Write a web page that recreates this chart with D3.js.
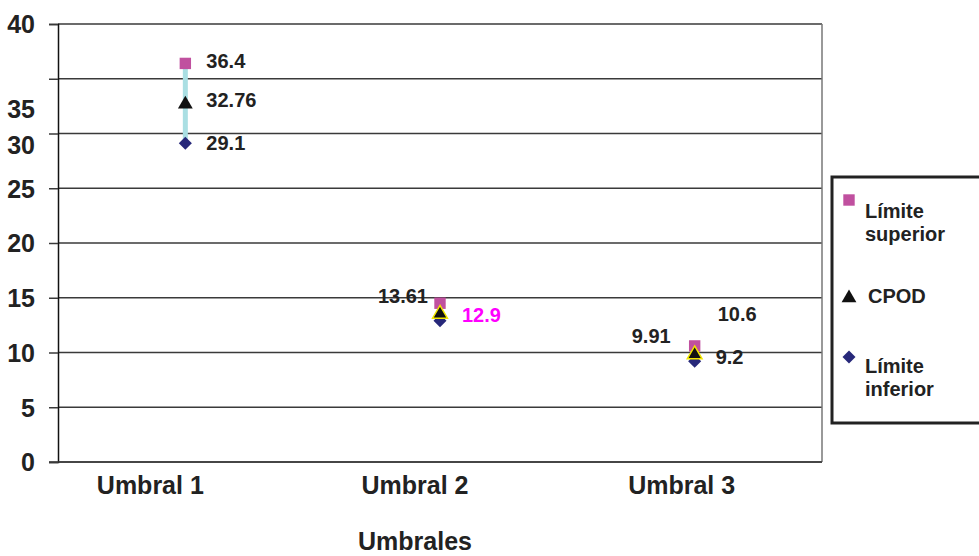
<!DOCTYPE html>
<html>
<head>
<meta charset="utf-8">
<script src="https://cdn.jsdelivr.net/npm/d3@7"></script>
<style>
  html, body { margin: 0; padding: 0; background: #fff; }
  svg { display: block; font-family: "Liberation Sans", Arial, Helvetica, sans-serif; font-weight: bold; }
</style>
</head>
<body>
<svg id="chart" width="979" height="556"></svg>
<script>
const categories = ["Umbral 1", "Umbral 2", "Umbral 3"];
const upperValues = [36.4, 14.5, 10.6];
const cpodValues = [32.76, 13.61, 9.91];
const lowerValues = [29.1, 12.9, 9.2];
const upperLabels = ["36.4", "", "10.6"];
const cpodLabels = ["32.76", "13.61", "9.91"];
const lowerLabels = ["29.1", "12.9", "9.2"];
const yTicks = [0, 5, 10, 15, 20, 25, 30, 35, 40];
const legendNames = ["Límite superior", "CPOD", "Límite inferior"];
const xTitle = "Umbrales";

const svg = d3.select("#chart");
const mLeft = 58, mRight = 822, mTop = 24, mBottom = 462;

const x = d3.scaleBand().domain(categories).range([mLeft, mRight]);
const cx = d => x(d) + x.bandwidth() / 2;
const y = d3.scaleLinear().domain([0, 40]).range([mBottom, mTop]);

// gridlines
svg.append("g").selectAll("line").data(yTicks).join("line")
  .attr("x1", mLeft).attr("x2", mRight)
  .attr("y1", d => y(d)).attr("y2", d => y(d))
  .attr("stroke", "#3a3a3a").attr("stroke-width", 1.5);

// right border
svg.append("line").attr("x1", mRight).attr("x2", mRight).attr("y1", mTop).attr("y2", mBottom)
  .attr("stroke", "#777").attr("stroke-width", 1.5);

// y axis
const yAxis = svg.append("g").attr("transform", `translate(${mLeft},0)`)
  .call(d3.axisLeft(y).tickValues(yTicks).tickSize(9).tickPadding(14).tickFormat(d3.format("d")));
yAxis.select(".domain").attr("stroke", "#111").attr("stroke-width", 1.5);
yAxis.selectAll(".tick line").attr("stroke", "#3a3a3a").attr("stroke-width", 1.5);
// the source draws the 35 and 30 labels displaced downward
const labelShift = {35: 30, 30: 11};
yAxis.selectAll(".tick text")
  .attr("fill", "#222")
  .style("font-size", "25px").style("font-weight", "bold")
  .attr("font-family", "Liberation Sans, Arial, sans-serif")
  .attr("dy", "0.35em")
  .attr("transform", d => labelShift[d] ? `translate(0,${labelShift[d]})` : null);

// bottom axis line
svg.append("line").attr("x1", mLeft - 9).attr("x2", mRight).attr("y1", mBottom).attr("y2", mBottom)
  .attr("stroke", "#3a3a3a").attr("stroke-width", 1.5);

// x labels (drawn left of the category centres, as in the source)
svg.append("g").selectAll("text").data(categories).join("text")
  .attr("x", (d, i) => cx(d) - [35, 25, 13][i]).attr("y", 494)
  .attr("text-anchor", "middle").attr("fill", "#222").style("font-size", "25px")
  .text(d => d);

svg.append("text").attr("x", 415).attr("y", 550).attr("text-anchor", "middle")
  .attr("fill", "#222").style("font-size", "25px").text(xTitle);

// high-low range lines
svg.append("g").selectAll("line").data(categories).join("line")
  .attr("x1", d => cx(d)).attr("x2", d => cx(d))
  .attr("y1", (d, i) => y(upperValues[i])).attr("y2", (d, i) => y(lowerValues[i]))
  .attr("stroke", "#aadfe3").attr("stroke-width", 5);

// markers
const sq = d3.symbol().type(d3.symbolSquare).size(130);
const tri = d3.symbol().type(d3.symbolTriangle).size(95);
const dia = d3.symbol().type(d3.symbolSquare).size(85);

svg.append("g").selectAll("path").data(categories).join("path")
  .attr("d", dia).attr("transform", (d, i) => `translate(${cx(d)},${y(lowerValues[i])}) rotate(45)`)
  .attr("fill", "#27287a");
svg.append("g").selectAll("path").data(categories).join("path")
  .attr("d", sq).attr("transform", (d, i) => `translate(${cx(d)},${y(upperValues[i])})`)
  .attr("fill", "#c0509f");
svg.append("g").selectAll("path").data(categories).join("path")
  .attr("d", tri).attr("transform", (d, i) => `translate(${cx(d)},${y(cpodValues[i]) + 1})`)
  .attr("fill", "#111")
  .attr("stroke", (d, i) => i === 0 ? "none" : "#f2e600").attr("stroke-width", 1.5);

// data labels
const labelStyle = {
  upper: [{dx: 21, dy: -2, anchor: "start"}, null, {dx: 23, dy: -32, anchor: "start"}],
  cpod:  [{dx: 21, dy: -3, anchor: "start"}, {dx: -12, dy: -17, anchor: "end"}, {dx: -24, dy: -17, anchor: "end"}],
  lower: [{dx: 21, dy: 0, anchor: "start"}, {dx: 22, dy: -6, anchor: "start", color: "#ff00ff"}, {dx: 21, dy: -4, anchor: "start"}]
};
const labelSets = [
  {key: "upper", vals: upperValues, labs: upperLabels},
  {key: "cpod", vals: cpodValues, labs: cpodLabels},
  {key: "lower", vals: lowerValues, labs: lowerLabels}
];
const lg = svg.append("g");
labelSets.forEach(s => {
  categories.forEach((c, i) => {
    const st = labelStyle[s.key][i];
    if (!s.labs[i] || !st) return;
    lg.append("text")
      .attr("x", cx(c) + st.dx).attr("y", y(s.vals[i]) + st.dy)
      .attr("dy", "0.35em").attr("text-anchor", st.anchor)
      .attr("fill", st.color || "#222").style("font-size", "20px")
      .text(s.labs[i]);
  });
});

// legend
const leg = svg.append("g");
leg.append("rect").attr("x", 832).attr("y", 177).attr("width", 160).attr("height", 246)
  .attr("fill", "#fff").attr("stroke", "#222").attr("stroke-width", 3);
leg.append("path").attr("d", sq).attr("transform", "translate(849,200)").attr("fill", "#c0509f");
leg.append("path").attr("d", tri).attr("transform", "translate(849,298)").attr("fill", "#111");
leg.append("path").attr("d", dia).attr("transform", "translate(849,357) rotate(45)").attr("fill", "#27287a");
const legText = [
  {lines: legendNames[0].split(" "), x: 865, y: 218},
  {lines: [legendNames[1]], x: 868, y: 303},
  {lines: legendNames[2].split(" "), x: 865, y: 373}
];
legText.forEach(t => {
  const tx = leg.append("text").attr("x", t.x).attr("y", t.y).attr("fill", "#222").style("font-size", "20px");
  t.lines.forEach((l, j) => tx.append("tspan").attr("x", t.x).attr("dy", j === 0 ? 0 : 23).text(l));
});
</script>
</body>
</html>
